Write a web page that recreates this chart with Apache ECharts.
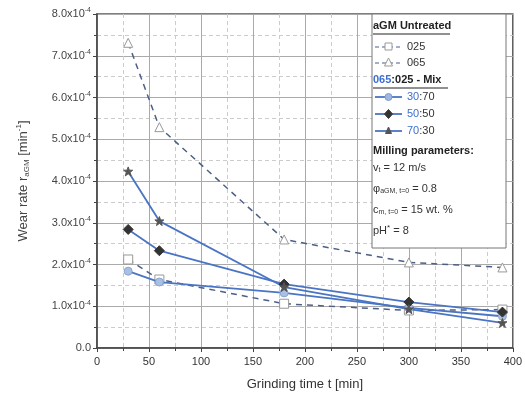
<!DOCTYPE html>
<html><head><meta charset="utf-8">
<script src="https://cdn.jsdelivr.net/npm/echarts@6/dist/echarts.min.js"></script>
<style>html,body{margin:0;padding:0;background:#fff}#c{width:525px;height:403px}</style>
</head><body><div id="c"></div>
<script>
const times = [30, 60, 180, 300, 390];
const untreated025 = [2.12, 1.64, 1.06, 0.90, 0.92];
const untreated065 = [7.31, 5.29, 2.60, 2.05, 1.93];
const mix3070 = [1.84, 1.58, 1.32, 0.96, 0.76];
const mix5050 = [2.84, 2.33, 1.53, 1.10, 0.86];
const mix7030 = [4.23, 3.04, 1.46, 0.93, 0.60];
const yTicks = [0, 1, 2, 3, 4, 5, 6, 7, 8];
const xTicks = [0, 50, 100, 150, 200, 250, 300, 350, 400];

const FONT = 'Liberation Sans, Arial, sans-serif';
const BLUE = '#4a74c4';
const DASH = '#4c5f86';
const starPath = 'path://M0,-10 L2.5,-3 L9.5,-3 L4,1.5 L6,9 L0,4.5 L-6,9 L-4,1.5 L-9.5,-3 L-2.5,-3 Z';

function pts(arr){ return times.map((t,i)=>[t, arr[i]]); }

const chart = echarts.init(document.getElementById('c'));
const L = 373;
const legendEls = [
  {type:'rect', shape:{x:372,y:14,width:134,height:234}, style:{fill:'#fff', stroke:'#777', lineWidth:1}},
  {type:'text', left:L, top:20, style:{text:'aGM Untreated', font:'bold 11px '+FONT, fill:'#222'}},
  {type:'line', shape:{x1:373,y1:34,x2:450,y2:34}, style:{stroke:'#222', lineWidth:1}},
  {type:'line', shape:{x1:375,y1:47,x2:402,y2:47}, style:{stroke:DASH, lineWidth:1.2, lineDash:[4,3]}},
  {type:'rect', shape:{x:385,y:43,width:7,height:7}, style:{fill:'#fff', stroke:'#999', lineWidth:1}},
  {type:'text', left:407, top:41, style:{text:'025', font:'11px '+FONT, fill:'#333'}},
  {type:'line', shape:{x1:375,y1:63,x2:402,y2:63}, style:{stroke:DASH, lineWidth:1.2, lineDash:[4,3]}},
  {type:'polygon', shape:{points:[[388.5,58],[392.5,66],[384.5,66]]}, style:{fill:'#fff', stroke:'#999', lineWidth:1}},
  {type:'text', left:407, top:57, style:{text:'065', font:'11px '+FONT, fill:'#333'}},
  {type:'text', left:L, top:74, style:{text:'{b|065}{k|:025 - Mix}', rich:{b:{font:'bold 11px '+FONT, fill:'#3d6fd0'}, k:{font:'bold 11px '+FONT, fill:'#222'}}}},
  {type:'line', shape:{x1:373,y1:88,x2:448,y2:88}, style:{stroke:'#222', lineWidth:1}},
  {type:'line', shape:{x1:375,y1:97,x2:402,y2:97}, style:{stroke:BLUE, lineWidth:1.8}},
  {type:'circle', shape:{cx:388.5,cy:97,r:3.5}, style:{fill:'#9fb8e0', stroke:'#7f9cc8', lineWidth:1}},
  {type:'text', left:407, top:91, style:{text:'{b|30}{k|:70}', rich:{b:{font:'11px '+FONT, fill:'#3d6fd0'}, k:{font:'11px '+FONT, fill:'#333'}}}},
  {type:'line', shape:{x1:375,y1:114,x2:402,y2:114}, style:{stroke:BLUE, lineWidth:1.8}},
  {type:'polygon', shape:{points:[[388.5,109.5],[392.5,114],[388.5,118.5],[384.5,114]]}, style:{fill:'#333', stroke:'#333'}},
  {type:'text', left:407, top:108, style:{text:'{b|50}{k|:50}', rich:{b:{font:'11px '+FONT, fill:'#3d6fd0'}, k:{font:'11px '+FONT, fill:'#333'}}}},
  {type:'line', shape:{x1:375,y1:131,x2:402,y2:131}, style:{stroke:BLUE, lineWidth:1.8}},
  {type:'polygon', shape:{points:[[388.5,127],[391.5,133.5],[385.5,133.5]]}, style:{fill:'#555', stroke:'#555'}},
  {type:'text', left:407, top:125, style:{text:'{b|70}{k|:30}', rich:{b:{font:'11px '+FONT, fill:'#3d6fd0'}, k:{font:'11px '+FONT, fill:'#333'}}}},
  {type:'text', left:L, top:145, style:{text:'Milling parameters:', font:'bold 11px '+FONT, fill:'#222'}},
  {type:'text', left:L, top:162, style:{text:'{n|v}{s|t}{n| = 12 m/s}', rich:{n:{font:'11px '+FONT, fill:'#333'}, s:{font:'7px '+FONT, fill:'#333', padding:[6,0,0,0]}}}},
  {type:'text', left:L, top:183, style:{text:'{n|\u03c6}{s|aGM, t=0}{n| = 0.8}', rich:{n:{font:'11px '+FONT, fill:'#333'}, s:{font:'7px '+FONT, fill:'#333', padding:[6,0,0,0]}}}},
  {type:'text', left:L, top:204, style:{text:'{n|c}{s|m, t=0}{n| = 15 wt. %}', rich:{n:{font:'11px '+FONT, fill:'#333'}, s:{font:'7px '+FONT, fill:'#333', padding:[6,0,0,0]}}}},
  {type:'text', left:L, top:224, style:{text:'{n|pH}{s|*}{n| = 8}', rich:{n:{font:'11px '+FONT, fill:'#333'}, s:{font:'8px '+FONT, fill:'#333', padding:[0,0,5,0]}}}}
];

chart.setOption({
  animation:false,
  backgroundColor:'#fff',
  grid:{left:97, right:12, top:14, bottom:55, show:true, borderColor:'#555', borderWidth:1.5},
  xAxis:{type:'value', min:0, max:400, interval:50,
    name:'Grinding time t [min]', nameLocation:'middle', nameGap:30,
    nameTextStyle:{fontFamily:FONT, fontSize:13, color:'#333'},
    axisLine:{lineStyle:{color:'#444', width:1.5}},
    axisTick:{show:true, length:4, lineStyle:{color:'#444'}},
    minorTick:{show:true, splitNumber:2, length:3, lineStyle:{color:'#444'}},
    axisLabel:{fontFamily:FONT, fontSize:11, color:'#333', margin:8},
    splitLine:{show:true, lineStyle:{color:'#aaa', width:1}},
    minorSplitLine:{show:true, lineStyle:{color:'#ccc', type:[4,3]}}
  },
  yAxis:{type:'value', min:0, max:8, interval:1,
    name:'{n|Wear rate r}{s|aGM}{n| [min}{p|-1}{n|]}', nameLocation:'middle', nameGap:66,
    nameTextStyle:{fontFamily:FONT, fontSize:13, color:'#333', rich:{
      n:{fontFamily:FONT, fontSize:13, color:'#444'},
      s:{fontFamily:FONT, fontSize:8, color:'#444', padding:[8,0,0,0]},
      p:{fontFamily:FONT, fontSize:8, color:'#444', padding:[0,0,8,0]}}},
    axisLine:{lineStyle:{color:'#444', width:1.5}},
    axisTick:{show:true, length:4, lineStyle:{color:'#444'}},
    minorTick:{show:true, splitNumber:2, length:3, lineStyle:{color:'#444'}},
    axisLabel:{fontFamily:FONT, fontSize:11, color:'#444', margin:6,
      formatter:function(v){ return v===0 ? '{m|0.0}' : '{m|'+v.toFixed(1)+'x10}{s|-4}'; },
      rich:{m:{fontFamily:FONT, fontSize:11, color:'#444'}, s:{fontFamily:FONT, fontSize:7, color:'#444', padding:[0,0,7,0]}}},
    splitLine:{show:true, lineStyle:{color:'#aaa', width:1}},
    minorSplitLine:{show:true, lineStyle:{color:'#ccc', type:[4,3]}}
  },
  series:[
    {name:'025', type:'line', data:pts(untreated025), symbol:'rect', symbolSize:9,
      lineStyle:{color:DASH, width:1.5, type:[6,5]}, itemStyle:{color:'#fff', borderColor:'#999', borderWidth:1}, z:3},
    {name:'065', type:'line', data:pts(untreated065), symbol:'triangle', symbolSize:9,
      lineStyle:{color:DASH, width:1.5, type:[6,5]}, itemStyle:{color:'#fff', borderColor:'#999', borderWidth:1}, z:3},
    {name:'30:70', type:'line', data:pts(mix3070), symbol:'circle', symbolSize:8,
      lineStyle:{color:BLUE, width:1.8}, itemStyle:{color:'#a9c0e4', borderColor:'#8aa4cc', borderWidth:1}, z:4},
    {name:'50:50', type:'line', data:pts(mix5050), symbol:'diamond', symbolSize:10,
      lineStyle:{color:BLUE, width:1.8}, itemStyle:{color:'#333', borderColor:'#333', borderWidth:1}, z:4},
    {name:'70:30', type:'line', data:pts(mix7030), symbol:starPath, symbolSize:9,
      lineStyle:{color:BLUE, width:1.8}, itemStyle:{color:'#555', borderColor:'#555', borderWidth:1}, z:4}
  ],
  graphic: [{type:'group', z:100, zlevel:0, children: legendEls.map(e=>Object.assign({z:100}, e))}]
});
</script></body></html>
